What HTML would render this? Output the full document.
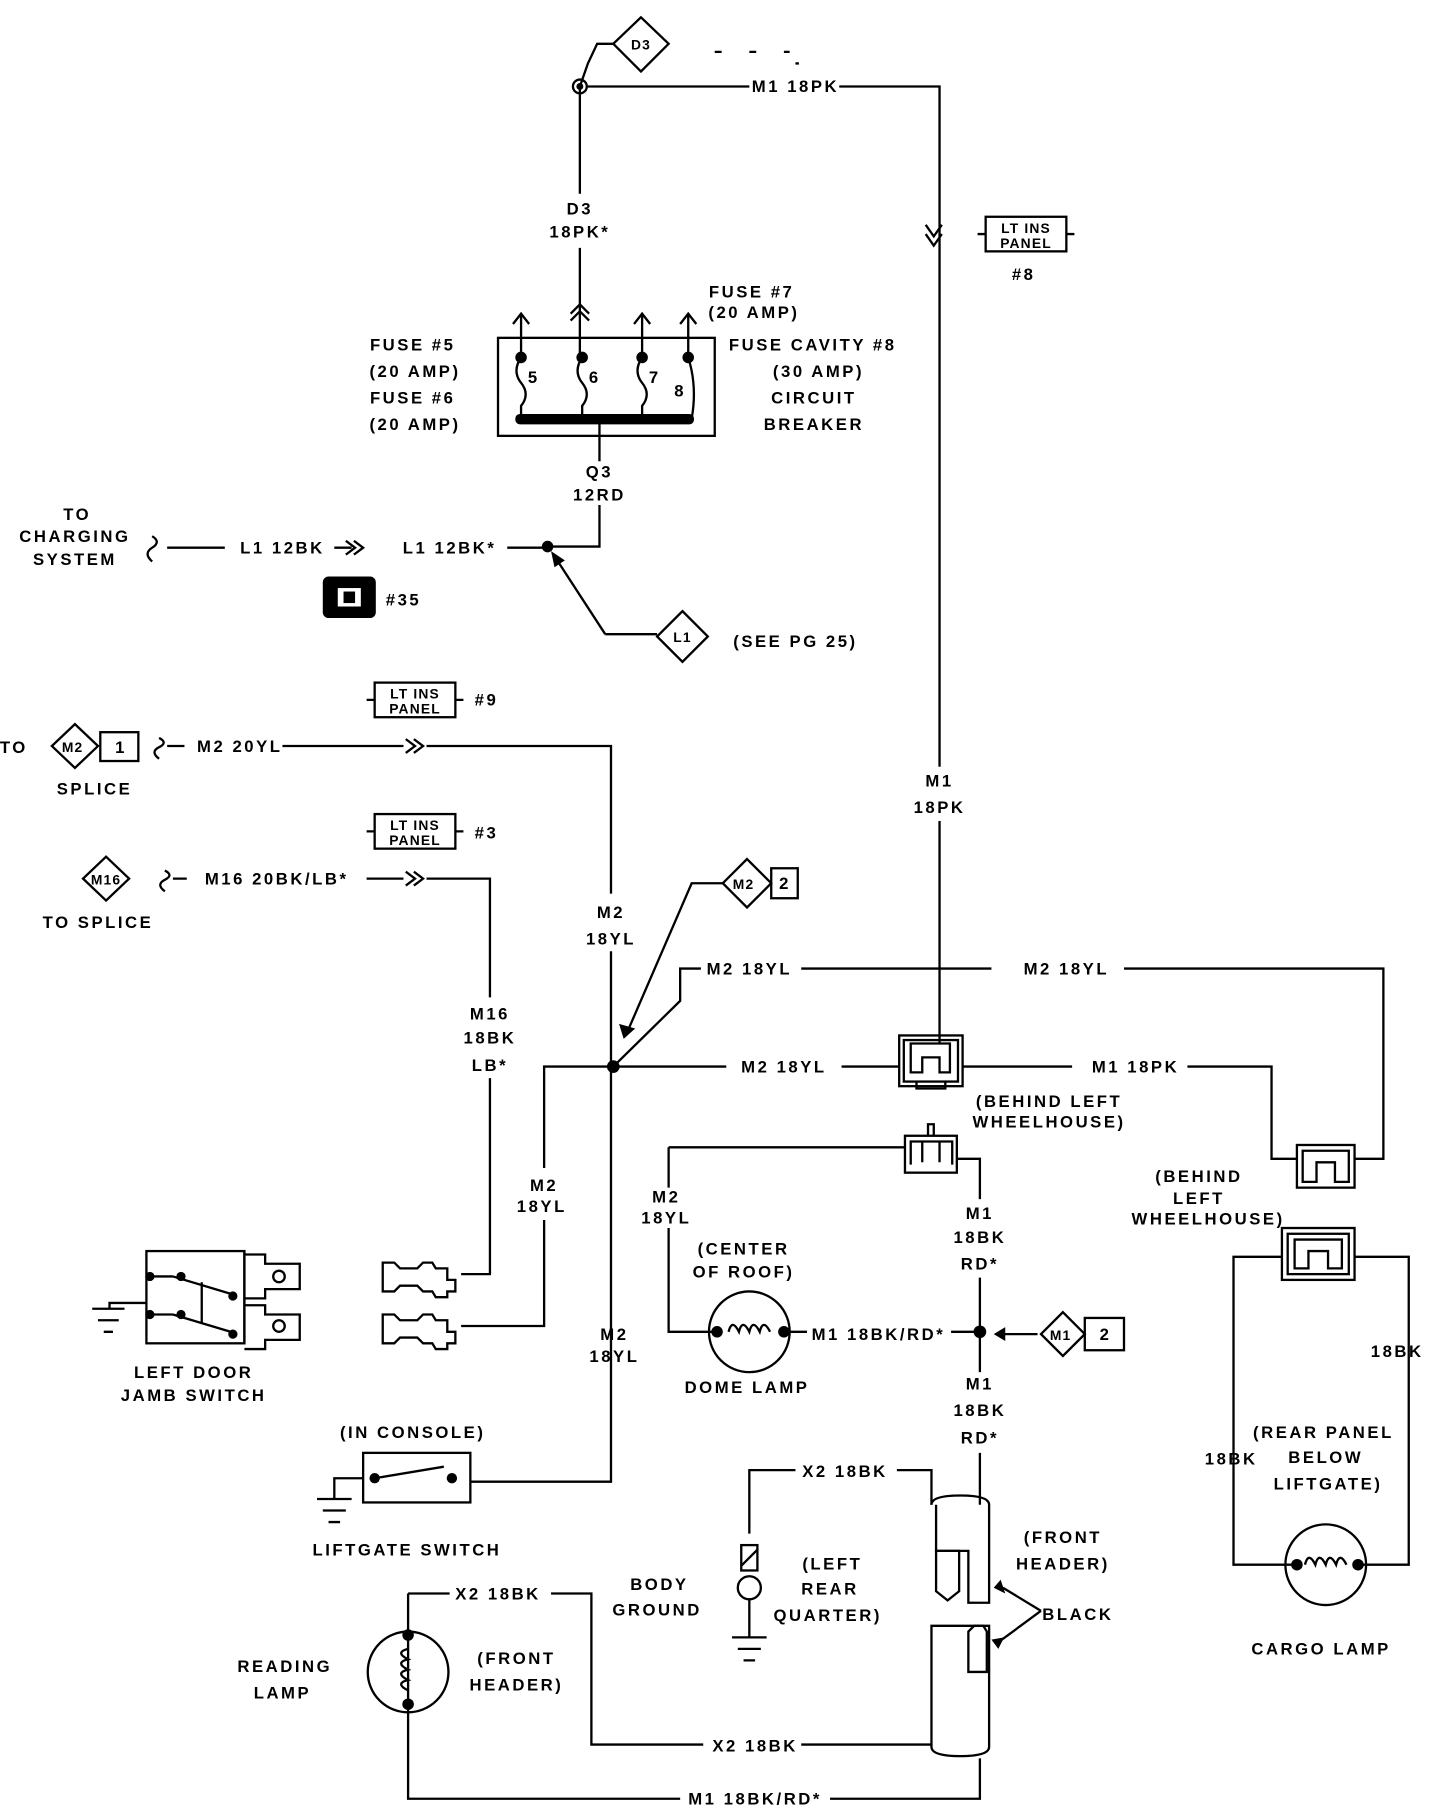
<!DOCTYPE html>
<html><head><meta charset="utf-8"><style>
html,body{margin:0;padding:0;background:#fff}
svg{display:block}
text{font-family:"Liberation Sans",sans-serif;font-size:14.5px;font-weight:bold;letter-spacing:2.2px;fill:#000;text-anchor:middle}
.s{font-size:12px;letter-spacing:1px}
</style></head><body>
<svg width="1456" height="1808" viewBox="0 0 1263 1568" preserveAspectRatio="none" xmlns="http://www.w3.org/2000/svg">
<g fill="none" stroke="#000" stroke-width="2">
<path d="M556 15 L580 38 L556 62 L532 38 Z"/>
<path d="M532 38 H518 L510 55 L503 75"/>
<circle cx="503" cy="75" r="6"/>
<path d="M509 75 H650 M728 75 H815 V665"/>
<path d="M803 195 L810 205 L817 195 M803 203 L810 213 L817 203"/>
<path d="M620 45h6 M650 45h6 M680 45h5 M690 55h3"/>
<path d="M503 75 V168 M503 215 V310"/>
<path d="M495 272 L503 264 L511 272 M495 278 L503 270 L511 278"/>
<rect x="432" y="293" width="188" height="85"/>
<path d="M452 310 V272 M445 281 L452 272 L459 281 M557 310 V272 M550 281 L557 272 L564 281 M597 310 V272 M590 281 L597 272 L604 281"/>
<path d="M452 310 q-8 12 0 22 q8 10 0 20 v11 M505 310 q-8 12 0 22 q8 10 0 20 v11 M557 310 q-8 12 0 22 q8 10 0 20 v11 M597 310 q8 25 3 53"/>
<path d="M520 363 V400 M520 438 V474 H475"/>
<path d="M132 465 q8 5 0 10 q-8 5 0 12 M145 475 H195 M290 475 h15 M440 475 h35"/>
<path d="M300 469 L308 475 L300 481 M307 469 L315 475 L307 481"/>
<path d="M525 550 L484 487 M525 550 H570 M592 530 L614 552 L592 574 L570 552 Z"/>
<rect x="855" y="188" width="70" height="30"/><path d="M848 203 h7 M925 203 h7"/>
<rect x="325" y="592" width="70" height="30"/><path d="M318 607 h7 M395 607 h7"/>
<rect x="325" y="706" width="70" height="30"/><path d="M318 721 h7 M395 721 h7"/>
<path d="M65 628 L85 647 L65 666 L45 647 Z"/>
<rect x="87" y="635" width="33" height="25"/>
<path d="M138 640 q8 4 0 8 q-8 4 0 10 M145 647 H160 M245 647 H350 M370 647 H530 V775 M530 825 V1285 H408"/>
<path d="M352 641 L360 647 L352 653 M359 641 L367 647 L359 653"/>
<path d="M92 743 L112 762 L92 781 L72 762 Z"/>
<path d="M143 755 q8 4 0 8 q-8 4 0 10 M150 762 H162 M318 762 H350 M370 762 H425 V865 M425 935 V1105 H400"/>
<path d="M352 756 L360 762 L352 768 M359 756 L367 762 L359 768"/>
<path d="M648 745 L669 766 L648 787 L627 766 Z"/>
<rect x="669" y="753" width="23" height="26"/>
<path d="M627 766 H600 L545 893"/>
<path d="M532 925 L590 868 V840 H608 M695 840 H860 M975 840 H1200 V1005 H1175"/>
<path d="M532 925 H472 V1013 M472 1058 V1150 H400 M532 925 H630 M730 925 H780"/>
<rect x="780" y="898" width="55" height="44"/>
<rect x="784" y="902" width="47" height="36"/>
<path d="M790 930 V905 H824 V930 H815 V917 H800 V930 Z M795 938 v6 h25 v-6"/>
<path d="M815 712 V905 M835 925 H930 M1030 925 H1103 V1005 H1125"/>
<rect x="1125" y="993" width="50" height="37"/>
<path d="M1130 1025 V998 H1170 V1025 H1158 V1008 H1142 V1025 Z"/>
<rect x="785" y="985" width="45" height="32"/>
<path d="M790 1010 V990 H826 V1010 M800 990 V1008 M815 990 V1008 M805 985 V975 H810 V985"/>
<path d="M580 995 H785 M580 995 V1030 M580 1065 V1155 H622 M830 1005 H850 V1040 M850 1108 V1155 M850 1155 V1190 M850 1260 V1305"/>
<circle cx="650" cy="1155" r="35"/>
<path d="M632 1155 q3 -12 9 0 q3 -12 9 0 q3 -12 9 0 q3 -12 9 0"/>
<path d="M685 1155 H700 M825 1155 H850 M900 1157 H870"/>
<path d="M922 1138 L941 1157 L922 1176 L903 1157 Z"/>
<rect x="941" y="1143" width="34" height="28"/>
<rect x="127" y="1085" width="85" height="80"/>
<path d="M212 1085 v80 M212 1088 h18 v8 h30 v22 h-30 v8 h-18 M212 1132 h18 v8 h30 v22 h-30 v8 h-18"/>
<circle cx="242" cy="1107" r="5"/><circle cx="242" cy="1150" r="5"/>
<path d="M130 1107 h20 M130 1140 h20 M150 1107 L200 1122 M150 1140 L200 1155 M175 1112 V1148"/>
<path d="M127 1130 H95 V1135 M80 1135 h28 M85 1145 h18 M90 1155 h8"/>
<path d="M332 1095 h10 l5 5 h15 l5 -5 h8 l3 5 h10 v10 h7 v10 h-7 v5 h-10 l-3 -5 h-8 l-5 -5 h-15 l-5 5 h-10 Z"/>
<path d="M332 1140 h10 l5 5 h15 l5 -5 h8 l3 5 h10 v10 h7 v10 h-7 v5 h-10 l-3 -5 h-8 l-5 -5 h-15 l-5 5 h-10 Z"/>
<rect x="315" y="1260" width="93" height="43"/>
<path d="M325 1282 L385 1272 M315 1282 H290 V1300 M275 1300 h30 M280 1310 h20 M285 1320 h10"/>
<path d="M650 1330 V1275 H690 M778 1275 H808 V1305"/>
<path d="M808 1305 q0 -8 25 -8 q25 0 25 8 V1390 H840 V1345 H812 V1305"/>
<path d="M812 1345 h20 v35 l-10 8 l-10 -8 Z"/>
<path d="M808 1410 H858 V1515 q0 8 -25 8 q-25 0 -25 -8 Z"/>
<path d="M840 1450 v-35 l5 -5 h8 l3 5 v35 Z"/>
<path d="M903 1397 L870 1377 M903 1397 L865 1425"/>
<rect x="643" y="1340" width="14" height="22"/>
<path d="M643 1358 L657 1344"/>
<circle cx="650" cy="1377" r="10"/>
<path d="M650 1387 V1420 M635 1420 h30 M640 1430 h20 M645 1440 h10"/>
<circle cx="354" cy="1450" r="35"/>
<path d="M354 1382 V1560 H590 M720 1560 H850 V1525 M354 1382 H390 M478 1382 H513 V1513 H610 M695 1513 H808"/>
<path d="M354 1430 q-12 3 0 9 q-12 3 0 9 q-12 3 0 9 q-12 3 0 9" />
<rect x="1112" y="1065" width="63" height="45"/>
<rect x="1117" y="1070" width="53" height="35"/>
<path d="M1123 1100 V1075 H1164 V1100 H1152 V1085 H1135 V1100 Z"/>
<path d="M1112 1090 H1070 V1357 H1125 M1175 1090 H1222 V1357 H1178"/>
<circle cx="1150" cy="1357" r="35"/>
<path d="M1132 1357 q3 -12 9 0 q3 -12 9 0 q3 -12 9 0 q3 -12 9 0"/>
</g>
<g fill="#000">
<circle cx="503" cy="75" r="3"/>
<circle cx="452" cy="310" r="5"/><circle cx="505" cy="310" r="5"/><circle cx="557" cy="310" r="5"/><circle cx="597" cy="310" r="5"/>
<rect x="447" y="359" width="155" height="9" rx="4"/>
<circle cx="475" cy="474" r="5"/>
<path d="M478 478 L481 492 L490 486 Z"/>
<path d="M537 888 L541 901 L551 892 Z"/>
<path d="M868 1370 L862 1377 L872 1382 Z M860 1422 L866 1430 L871 1420 Z"/>
<rect x="280" y="500" width="46" height="36" rx="5"/>
<circle cx="532" cy="925" r="5.5"/>
<circle cx="850" cy="1155" r="5.5"/>
<circle cx="622" cy="1155" r="5"/><circle cx="680" cy="1155" r="5"/>
<path d="M872 1151 L862 1157 L872 1163 Z"/>
<circle cx="130" cy="1107" r="4"/><circle cx="130" cy="1140" r="4"/><circle cx="157" cy="1107" r="4"/><circle cx="157" cy="1140" r="4"/><circle cx="202" cy="1124" r="4"/><circle cx="202" cy="1157" r="4"/>
<circle cx="325" cy="1282" r="4.5"/><circle cx="392" cy="1282" r="4.5"/>
<circle cx="354" cy="1418" r="5"/><circle cx="354" cy="1478" r="5"/>
<circle cx="1125" cy="1357" r="5"/><circle cx="1178" cy="1357" r="5"/>
</g>
<rect x="293" y="510" width="20" height="16" fill="#fff"/>
<rect x="298" y="513" width="10" height="10" fill="#000"/>
<text x="556" y="43" class="s">D3</text>
<text x="690" y="80">M1 18PK</text>
<text x="503" y="186">D3</text><text x="503" y="206">18PK*</text>
<text x="890" y="202" class="s">LT INS</text><text x="890" y="215" class="s">PANEL</text><text x="888" y="243">#8</text>
<text x="463" y="332">5</text><text x="516" y="332">6</text><text x="568" y="332">7</text><text x="590" y="344">8</text>
<text x="358" y="304">FUSE #5</text><text x="360" y="327">(20 AMP)</text><text x="358" y="350">FUSE #6</text><text x="360" y="373">(20 AMP)</text>
<text x="652" y="258">FUSE #7</text><text x="654" y="276">(20 AMP)</text>
<text x="705" y="304">FUSE CAVITY #8</text><text x="710" y="327">(30 AMP)</text><text x="706" y="350">CIRCUIT</text><text x="706" y="373">BREAKER</text>
<text x="520" y="414">Q3</text><text x="520" y="434">12RD</text>
<text x="67" y="451">TO</text><text x="65" y="470">CHARGING</text><text x="65" y="490">SYSTEM</text>
<text x="245" y="480">L1 12BK</text><text x="390" y="480">L1 12BK*</text>
<text x="350" y="525">#35</text>
<text x="592" y="557" class="s">L1</text><text x="690" y="561">(SEE PG 25)</text>
<text x="360" y="606" class="s">LT INS</text><text x="360" y="619" class="s">PANEL</text><text x="422" y="612">#9</text>
<text x="360" y="720" class="s">LT INS</text><text x="360" y="733" class="s">PANEL</text><text x="422" y="727">#3</text>
<text x="12" y="653">TO</text><text x="63" y="652" class="s">M2</text><text x="105" y="653">1</text><text x="82" y="689">SPLICE</text>
<text x="208" y="652">M2 20YL</text>
<text x="92" y="767" class="s">M16</text><text x="85" y="805">TO SPLICE</text>
<text x="240" y="767">M16 20BK/LB*</text>
<text x="530" y="796">M2</text><text x="530" y="819">18YL</text>
<text x="425" y="884">M16</text><text x="425" y="905">18BK</text><text x="425" y="929">LB*</text>
<text x="645" y="771" class="s">M2</text><text x="681" y="771">2</text>
<text x="650" y="845">M2 18YL</text><text x="925" y="845">M2 18YL</text>
<text x="680" y="930">M2 18YL</text><text x="985" y="930">M1 18PK</text>
<text x="815" y="682">M1</text><text x="815" y="705">18PK</text>
<text x="910" y="960">(BEHIND LEFT</text><text x="910" y="978">WHEELHOUSE)</text>
<text x="1040" y="1025">(BEHIND</text><text x="1040" y="1044">LEFT</text><text x="1048" y="1062">WHEELHOUSE)</text>
<text x="472" y="1033">M2</text><text x="470" y="1051">18YL</text>
<text x="578" y="1043">M2</text><text x="578" y="1061">18YL</text>
<text x="850" y="1057">M1</text><text x="850" y="1078">18BK</text><text x="850" y="1101">RD*</text>
<text x="645" y="1088">(CENTER</text><text x="645" y="1108">OF ROOF)</text><text x="648" y="1208">DOME LAMP</text>
<text x="762" y="1162">M1 18BK/RD*</text>
<text x="920" y="1162" class="s">M1</text><text x="959" y="1162">2</text>
<text x="533" y="1162">M2</text><text x="533" y="1181">18YL</text>
<text x="850" y="1205">M1</text><text x="850" y="1228">18BK</text><text x="850" y="1252">RD*</text>
<text x="168" y="1195">LEFT DOOR</text><text x="168" y="1215">JAMB SWITCH</text>
<text x="358" y="1247">(IN CONSOLE)</text><text x="353" y="1349">LIFTGATE SWITCH</text>
<text x="733" y="1281">X2 18BK</text>
<text x="572" y="1379">BODY</text><text x="570" y="1401">GROUND</text>
<text x="722" y="1361">(LEFT</text><text x="720" y="1383">REAR</text><text x="718" y="1406">QUARTER)</text>
<text x="922" y="1338">(FRONT</text><text x="922" y="1361">HEADER)</text><text x="935" y="1405">BLACK</text>
<text x="432" y="1387">X2 18BK</text>
<text x="247" y="1450">READING</text><text x="245" y="1473">LAMP</text>
<text x="448" y="1443">(FRONT</text><text x="448" y="1466">HEADER)</text>
<text x="655" y="1519">X2 18BK</text><text x="655" y="1565">M1 18BK/RD*</text>
<text x="1212" y="1177">18BK</text><text x="1068" y="1270">18BK</text>
<text x="1148" y="1247">(REAR PANEL</text><text x="1150" y="1269">BELOW</text><text x="1152" y="1292">LIFTGATE)</text>
<text x="1146" y="1435">CARGO LAMP</text>
</svg>
</body></html>
